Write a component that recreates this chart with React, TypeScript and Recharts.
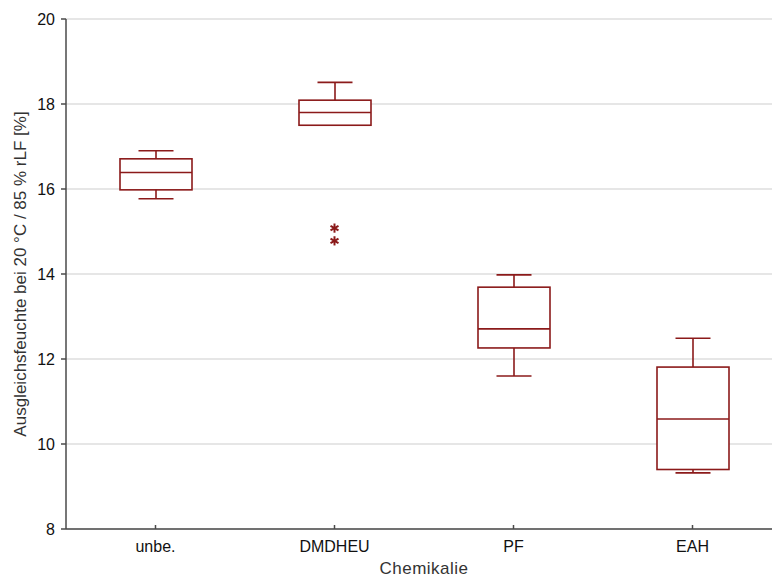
import React from "react";
import {
  Bar,
  CartesianGrid,
  ComposedChart,
  Label,
  Scatter,
  XAxis,
  YAxis,
} from "recharts";

const categories = ["unbe.", "DMDHEU", "PF", "EAH"];
const whiskerLow = [15.77, 17.5, 11.6, 9.32];
const quartile1 = [15.98, 17.5, 12.26, 9.4];
const medians = [16.39, 17.8, 12.71, 10.59];
const quartile3 = [16.71, 18.09, 13.69, 11.81];
const whiskerHigh = [16.9, 18.51, 13.98, 12.49];
const outlierA: (number | null)[] = [null, 15.08, null, null];
const outlierB: (number | null)[] = [null, 14.78, null, null];
const yTicks = [8, 10, 12, 14, 16, 18, 20];

const BOX = "#8b1a1a";
const AXIS = "#4a4a4a";
const FONT = "'Liberation Sans', Arial, sans-serif";

const rows = categories.map((cat, i) => ({
  cat,
  box: [quartile1[i], quartile3[i]],
  lo: whiskerLow[i],
  med: medians[i],
  hi: whiskerHigh[i],
  outA: outlierA[i],
  outB: outlierB[i],
}));

// box drawn from the range bar; whiskers/median placed with the same px-per-unit
function BoxShape(props: any) {
  const { x, y, width, height, payload } = props;
  const [q1, q3] = payload.box;
  const top = Math.min(y, y + height);
  const h = Math.abs(height);
  const k = h / (q3 - q1);
  const yOf = (v: number) => top + (q3 - v) * k;
  const cx = x + width / 2;
  const cap = 17.5;
  return (
    <g stroke={BOX} strokeWidth={1.6} fill="none">
      <rect x={x} y={top} width={width} height={h} fill="#fff" />
      <line x1={x} x2={x + width} y1={yOf(payload.med)} y2={yOf(payload.med)} />
      {payload.hi > q3 && (
        <>
          <line x1={cx} x2={cx} y1={yOf(payload.hi)} y2={top} />
          <line x1={cx - cap} x2={cx + cap} y1={yOf(payload.hi)} y2={yOf(payload.hi)} />
        </>
      )}
      {payload.lo < q1 && (
        <>
          <line x1={cx} x2={cx} y1={top + h} y2={yOf(payload.lo)} />
          <line x1={cx - cap} x2={cx + cap} y1={yOf(payload.lo)} y2={yOf(payload.lo)} />
        </>
      )}
    </g>
  );
}

function Star(props: any) {
  const { cx, cy } = props;
  if (cx == null || cy == null) return null;
  const r = 4.6;
  const dx = r * Math.cos(Math.PI / 6);
  const dy = r * Math.sin(Math.PI / 6);
  return (
    <g stroke={BOX} strokeWidth={2}>
      <line x1={cx} x2={cx} y1={cy - r} y2={cy + r} />
      <line x1={cx - dx} x2={cx + dx} y1={cy - dy} y2={cy + dy} />
      <line x1={cx - dx} x2={cx + dx} y1={cy + dy} y2={cy - dy} />
    </g>
  );
}

function BottomTick(props: any) {
  const { x, y, payload } = props;
  return (
    <g>
      <line x1={x} x2={x} y1={y} y2={y - 4} stroke={AXIS} strokeWidth={1.5} />
      <text x={x} y={y + 23} textAnchor="middle" fill="#111" fontSize={16} fontFamily={FONT}>
        {payload.value}
      </text>
    </g>
  );
}

function TopTick(props: any) {
  const { x, y } = props;
  return <line x1={x} x2={x} y1={y} y2={y + 4} stroke={AXIS} strokeWidth={1.5} />;
}

function YTitle(props: any) {
  const vb = props.viewBox || { y: 19, height: 510 };
  const cy = vb.y + vb.height / 2;
  return (
    <text
      x={20}
      y={cy}
      transform={`rotate(-90, 20, ${cy})`}
      textAnchor="middle"
      dominantBaseline="central"
      fill="#333"
      fontSize={17}
      fontFamily={FONT}
    >
      Ausgleichsfeuchte bei 20 °C / 85 % rLF [%]
    </text>
  );
}

export default function App() {
  return (
    <div
      style={{
        position: "fixed",
        left: 0,
        top: 0,
        width: 772,
        height: 583,
        overflow: "hidden",
        background: "#fff",
      }}
    >
      <ComposedChart
        width={800}
        height={583}
        data={rows}
        margin={{ top: 19, right: 18, bottom: 0, left: 0 }}
      >
        <CartesianGrid vertical={false} stroke="#dedede" strokeWidth={1.5} />
        <XAxis
          dataKey="cat"
          height={54}
          tickSize={0}
          tickMargin={0}
          tickLine={false}
          axisLine={{ stroke: AXIS, strokeWidth: 1.5 }}
          tick={<BottomTick />}
          interval={0}
        >
          <Label
            value="Chemikalie"
            position="insideBottom"
            offset={9}
            fill="#333"
            fontSize={17}
            letterSpacing={0.5}
            fontFamily={FONT}
          />
        </XAxis>
        <XAxis
          xAxisId="top"
          orientation="top"
          dataKey="cat"
          height={0}
          tickSize={0}
          tickMargin={0}
          tickLine={false}
          axisLine={{ stroke: AXIS, strokeWidth: 1.5 }}
          tick={<TopTick />}
          interval={0}
        />
        <YAxis
          width={66}
          domain={[8, 20]}
          ticks={yTicks}
          tickSize={5}
          tickMargin={6}
          axisLine={{ stroke: AXIS, strokeWidth: 1.5 }}
          tickLine={{ stroke: AXIS, strokeWidth: 1.5 }}
          tick={{ fill: "#111", fontSize: 16, fontFamily: FONT }}
          label={{ content: (p: any) => <YTitle {...p} /> }}
        />
        <Bar dataKey="box" barSize={72} shape={<BoxShape />} isAnimationActive={false} />
        <Scatter dataKey="outA" shape={<Star />} isAnimationActive={false} />
        <Scatter dataKey="outB" shape={<Star />} isAnimationActive={false} />
      </ComposedChart>
    </div>
  );
}
